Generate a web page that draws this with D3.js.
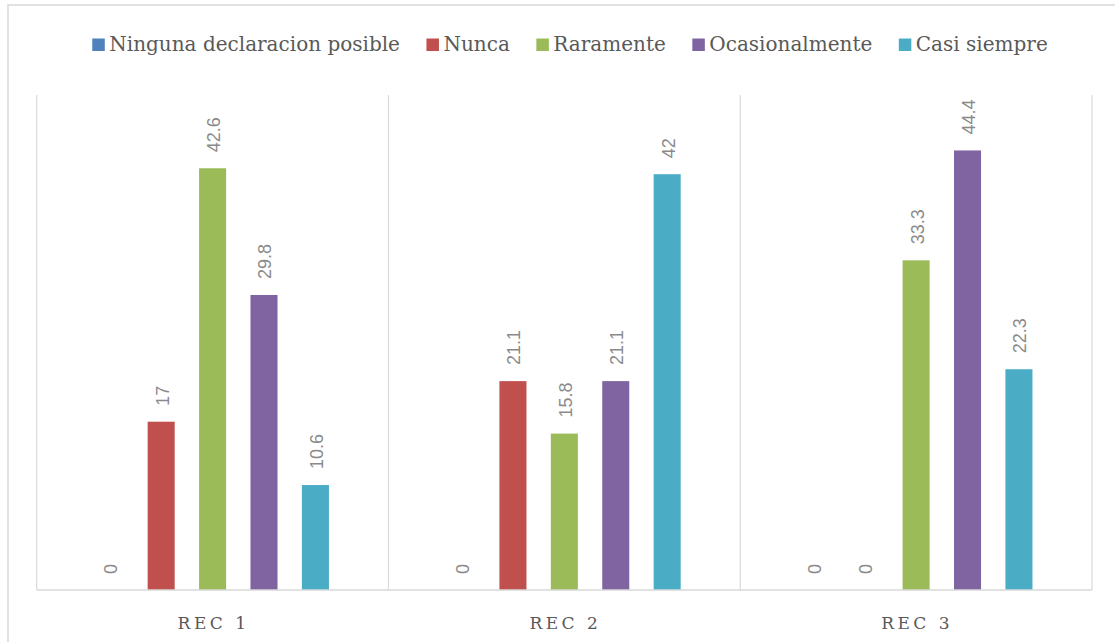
<!DOCTYPE html>
<html>
<head>
<meta charset="utf-8">
<script src="https://cdn.jsdelivr.net/npm/d3@7"></script>
<style>
  html, body { margin: 0; padding: 0; background: #ffffff; }
  svg { display: block; }
</style>
</head>
<body>
<svg id="chart" width="1115" height="642"></svg>
<script>
// Categories along the x axis
const categories = ["REC 1", "REC 2", "REC 3"];

// Series names (legend order) and their colours
const seriesNames = ["Ninguna declaracion posible", "Nunca", "Raramente", "Ocasionalmente", "Casi siempre"];
const seriesColors = ["#4F81BD", "#C0504D", "#9BBB59", "#8064A2", "#4BACC6"];

// Values per series, one entry per category
const ningunaValues = [0, 0, 0];
const nuncaValues = [17, 21.1, 0];
const raramenteValues = [42.6, 15.8, 33.3];
const ocasionalmenteValues = [29.8, 21.1, 44.4];
const casiSiempreValues = [10.6, 42, 22.3];

const seriesValues = [ningunaValues, nuncaValues, raramenteValues, ocasionalmenteValues, casiSiempreValues];

// Value axis range
const yDomain = [0, 50];

const svg = d3.select("#chart");

// Outer chart frame
svg.append("rect")
  .attr("x", 8).attr("y", 5)
  .attr("width", 1200).attr("height", 700)
  .attr("fill", "#ffffff")
  .attr("stroke", "#d9d9d9")
  .attr("stroke-width", 1.5);

const plot = { left: 36.7, right: 1092, top: 95, bottom: 590 };

const x0 = d3.scaleBand()
  .domain(categories)
  .range([plot.left, plot.right])
  .padding(0);

const x1 = d3.scaleBand()
  .domain(seriesNames)
  .range([0, x0.bandwidth()])
  .paddingInner(0.474)
  .paddingOuter(1.158);

const y = d3.scaleLinear()
  .domain(yDomain)
  .range([plot.bottom, plot.top]);

// Vertical separators between categories
const bounds = categories.map(c => x0(c)).concat([x0(categories[categories.length - 1]) + x0.bandwidth()]);
svg.append("g").selectAll("line")
  .data(bounds)
  .join("line")
  .attr("x1", d => d).attr("x2", d => d)
  .attr("y1", plot.top).attr("y2", plot.bottom)
  .attr("stroke", "#d9d9d9")
  .attr("stroke-width", 1.2);

// Bars
const rows = [];
categories.forEach((c, ci) => {
  seriesNames.forEach((s, si) => {
    rows.push({ cat: c, series: s, color: seriesColors[si], value: seriesValues[si][ci] });
  });
});

svg.append("g").selectAll("rect")
  .data(rows)
  .join("rect")
  .attr("x", d => x0(d.cat) + x1(d.series))
  .attr("y", d => y(d.value))
  .attr("width", x1.bandwidth())
  .attr("height", d => y(0) - y(d.value))
  .attr("fill", d => d.color);

// Value labels, rotated above each bar
svg.append("g").selectAll("text")
  .data(rows)
  .join("text")
  .attr("transform", d => {
    const cx = x0(d.cat) + x1(d.series) + x1.bandwidth() / 2 + 1.5;
    return `translate(${cx},${y(d.value) - 16}) rotate(-90)`;
  })
  .attr("text-anchor", "start")
  .attr("dominant-baseline", "central")
  .attr("font-family", "'Liberation Sans', Arial, sans-serif")
  .attr("font-size", 18)
  .attr("fill", "#8a8a8a")
  .text(d => d.value);

// Category axis baseline
svg.append("line")
  .attr("x1", plot.left).attr("x2", plot.right)
  .attr("y1", plot.bottom).attr("y2", plot.bottom)
  .attr("stroke", "#d9d9d9")
  .attr("stroke-width", 1.5);

// Category labels
svg.append("g").selectAll("text")
  .data(categories)
  .join("text")
  .attr("x", d => x0(d) + x0.bandwidth() / 2 + 1)
  .attr("y", 629)
  .attr("text-anchor", "middle")
  .attr("font-family", "'DejaVu Serif', 'Liberation Serif', serif")
  .attr("font-size", 17)
  .attr("letter-spacing", 3.5)
  .attr("fill", "#595959")
  .text(d => d);

// Legend
const legend = svg.append("g");
const items = legend.selectAll("g")
  .data(seriesNames)
  .join("g");
items.append("rect")
  .attr("width", 12.5).attr("height", 12.5)
  .attr("y", -12.5)
  .attr("fill", (d, i) => seriesColors[i]);
items.append("text")
  .attr("x", 17)
  .attr("font-family", "'DejaVu Serif', 'Liberation Serif', serif")
  .attr("font-size", 20)
  .attr("fill", "#595959")
  .text(d => d);

let cursor = 0;
const gap = 26.5;
items.each(function () {
  const tw = d3.select(this).select("text").node().getComputedTextLength();
  d3.select(this).attr("transform", `translate(${cursor},51)`);
  cursor += 17 + tw + gap;
});
const total = cursor - gap;
legend.attr("transform", `translate(${570 - total / 2},0)`);
</script>
</body>
</html>
